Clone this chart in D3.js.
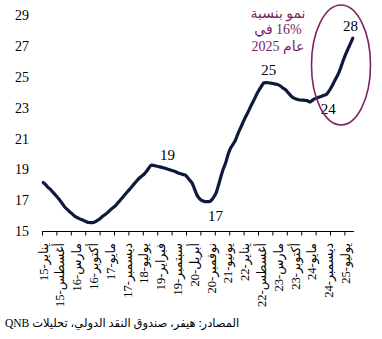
<!DOCTYPE html>
<html><head><meta charset="utf-8">
<script src="https://cdn.jsdelivr.net/npm/d3@7"></script>
<style>
html,body{margin:0;padding:0;background:#fff;}
svg{display:block;}
</style></head>
<body>
<script>
// Monthly values, Jan 2015 – Oct 2025
const values = [
18.14,18.0,17.83,17.7,17.52,17.35,17.17,16.97,16.77,16.55,16.4,16.25,
16.12,15.98,15.88,15.8,15.74,15.67,15.6,15.55,15.54,15.56,15.63,15.73,
15.85,15.98,16.08,16.22,16.37,16.5,16.63,16.8,16.98,17.16,17.35,17.53,
17.7,17.88,18.07,18.25,18.42,18.55,18.68,18.85,19.08,19.27,19.25,19.21,
19.18,19.14,19.1,19.06,19.0,18.95,18.9,18.85,18.78,18.72,18.67,18.64,
18.5,18.3,18.12,17.75,17.35,17.12,16.98,16.92,16.9,16.9,16.98,17.18,
17.45,17.95,18.5,19.0,19.4,19.95,20.35,20.6,20.85,21.25,21.6,21.95,
22.3,22.6,22.92,23.25,23.55,23.88,24.15,24.4,24.6,24.62,24.6,24.58,
24.55,24.52,24.47,24.38,24.25,24.15,23.98,23.8,23.65,23.58,23.52,23.49,
23.48,23.47,23.45,23.36,23.45,23.56,23.62,23.68,23.73,23.8,23.85,24.05,
24.3,24.6,24.9,25.2,25.6,26.05,26.45,26.8,27.15,27.5
];
const xLabels = ["يناير-15","أغسطس-15","مارس-16","أكتوبر-16","مايو-17","ديسمبر-17","يوليو-18","فبراير-19","سبتمبر-19","أبريل-20","نوفمبر-20","يونيو-21","يناير-22","أغسطس-22","مارس-23","أكتوبر-23","مايو-24","ديسمبر-24","يوليو-25"];
const labelEvery = 7;
const tickEvery = 6;
const yTicks = [15,17,19,21,23,25,27,29];
const pointLabels = [[51,"19"],[71,"17"],[94,"25"],[120,"24"],[128,"28"]];
const noteLines = ["نمو بنسبة","16% في","عام 2025"];
const source = "المصادر: هيفر، صندوق النقد الدولي، تحليلات QNB";

const W = 382, H = 339;
const svg = d3.select("body").append("svg").attr("width", W).attr("height", H);

const x = d3.scaleLinear().domain([0, values.length]).range([42, 354]);
const y = d3.scaleLinear().domain([15, 29]).range([231, 15]);
const cx = i => x(i + 0.5);

// Y axis labels
const yAxis = d3.axisLeft(y).tickValues(yTicks).tickSize(0).tickPadding(0);
const gy = svg.append("g").attr("transform", "translate(29,0)").call(yAxis);
gy.select(".domain").remove();
gy.selectAll("text").attr("font-family", "'Liberation Serif', serif").attr("font-size", 14).attr("fill", "#000").attr("dy","0.33em");

// X axis
const tickVals = d3.range(0, values.length, tickEvery);
const xAxis = d3.axisBottom(x).tickValues(tickVals).tickSize(4).tickFormat("");
const gx = svg.append("g").attr("transform", "translate(0,231.5)").call(xAxis);
gx.select(".domain").attr("d", `M${x(0)},0H${x(values.length)}`).attr("stroke", "#000");
gx.selectAll(".tick line").attr("stroke", "#000");

// X labels rotated
svg.append("g").selectAll("text").data(xLabels).join("text")
  .attr("transform", (d, k) => `translate(${cx(k * labelEvery)},243) rotate(-90)`)
  .attr("text-anchor", "end")
  .attr("dy", "0.35em")
  .attr("font-family", "'Liberation Serif', 'DejaVu Sans', serif")
  .attr("font-size", 12.5)
  .attr("fill", "#000")
  .text(d => "\u202B" + d + "\u202C");

// Line
const line = d3.line().x((d, i) => cx(i)).y(d => y(d)).curve(d3.curveMonotoneX);
svg.append("path").datum(values).attr("d", line)
  .attr("fill", "none").attr("stroke", "#0d1a3b").attr("stroke-width", 3.2)
  .attr("stroke-linejoin", "round").attr("stroke-linecap", "round");

// Point labels
const offs = {"19": [2, -14], "17": [2, 18], "25": [0, -13], "24": [-3, 21], "28": [0, -18]};
svg.append("g").selectAll("text").data(pointLabels).join("text")
  .attr("x", d => cx(d[0]) + offs[d[1]][0])
  .attr("y", d => y(values[d[0]]) + offs[d[1]][1])
  .attr("dy", "0.35em")
  .attr("text-anchor", "middle")
  .attr("font-family", "'Liberation Serif', serif").attr("font-size", 15).attr("fill", "#000")
  .text(d => d[1]);

// Ellipse highlight
svg.append("ellipse").attr("cx", 341).attr("cy", 65).attr("rx", 29.5).attr("ry", 60)
  .attr("fill", "none").attr("stroke", "#7b2466").attr("stroke-width", 1.6);

// Note
svg.append("g").selectAll("text").data(noteLines).join("text")
  .attr("x", 278).attr("y", (d, i) => 13 + i * 16.5)
  .attr("dy", "0.35em")
  .attr("text-anchor", "middle")
  .attr("font-family", "'Liberation Serif', 'DejaVu Sans', serif").attr("font-size", 14)
  .attr("fill", "#7b2466")
  .text(d => "\u202B" + d + "\u202C");

// Source
svg.append("text").attr("x", 5).attr("y", 323).attr("dy", "0.35em")
  .attr("font-family", "'Liberation Serif', 'DejaVu Sans', serif").attr("font-size", 11.5).attr("fill", "#000")
  .text("\u202B" + source + "\u202C");
</script>
</body></html>
